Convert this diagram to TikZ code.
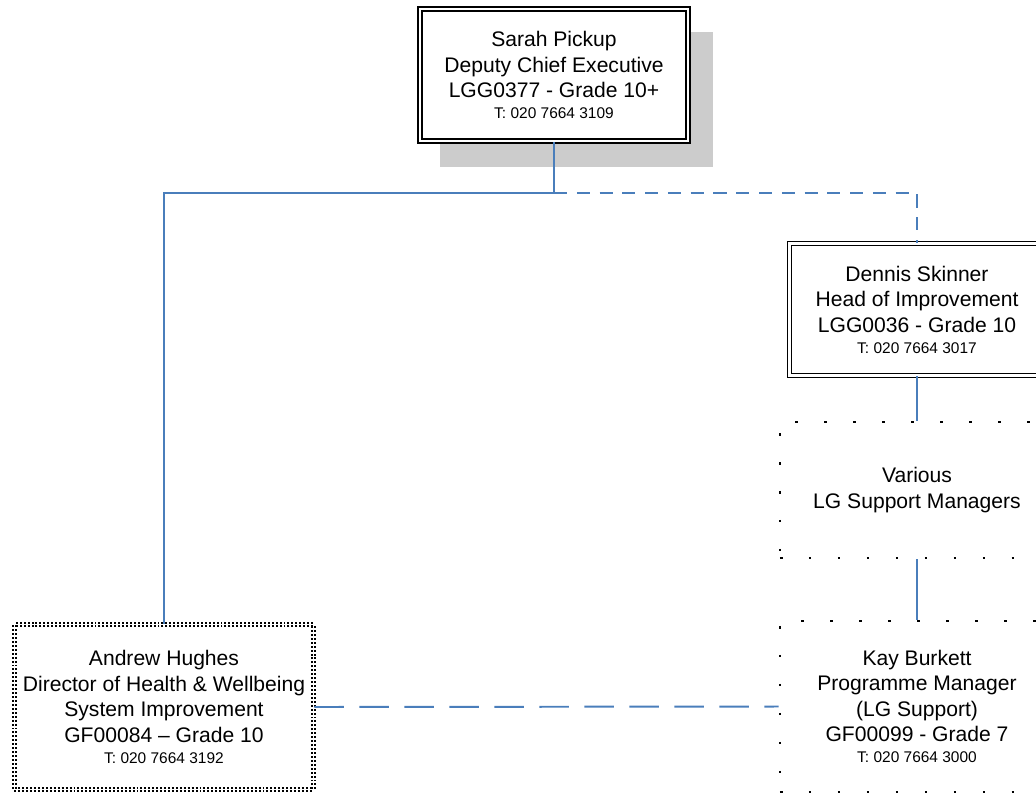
\documentclass[tikz,border=0pt]{standalone}
\usepackage{fontspec}
\setmainfont{Liberation Sans}
\usetikzlibrary{shadows}

\definecolor{orgblue}{RGB}{74,126,187}
\definecolor{shadowgray}{RGB}{204,204,204}
\newcommand{\phoneline}[1]{{\fontsize{11}{13}\selectfont T: #1}}

\begin{document}
\begin{tikzpicture}[x = 0.025cm, y = -0.025cm,
    post/.style = {draw, fill = white, align = center, inner sep = 0pt, font = \fontsize{15}{18.2}\selectfont},
    doublepost/.style = {post, double, line width = 1.1pt, double distance = 1.5pt},
    dottedpost/.style = {post, line width = 1.8pt, dash pattern = on 1.8pt off 18.8pt},
    vacantpost/.style = {post, double, line width = 1.2pt, double distance = 1.3pt, dash pattern = on 1.4pt off 1.4pt},
    link/.style = {orgblue, line width = 1.4pt},
    shortdash/.style = {link, dash pattern = on 9.3pt off 6.9pt},
    longdash/.style = {link, dash pattern = on 21pt off 11pt}]

    \useasboundingbox (0, 0) rectangle (1036, 794);
    \clip (0, 0) rectangle (1036, 794);

    \node[doublepost, minimum width = 6.7cm, minimum height = 3.3cm,
        drop shadow = {shadow xshift = 0.55cm, shadow yshift = -0.6cm, shadow scale = 1.02, fill = shadowgray, opacity = 1}]
        (sarah) at (554, 75){Sarah Pickup\\Deputy Chief Executive\\LGG0377 - Grade 10+\\[-3.3pt]\phoneline{020 7664 3109}};

    \node[doublepost, minimum width = 6.375cm, minimum height = 3.3cm] (dennis) at (917, 309.5){Dennis Skinner\\Head of Improvement\\LGG0036 - Grade 10\\[-3.3pt]\phoneline{020 7664 3017}};

    \node[dottedpost, minimum width = 6.85cm, minimum height = 3.4cm] (various) at (917, 490){Various\\LG Support Managers};

    \node[dottedpost, minimum width = 6.85cm, minimum height = 4.275cm] (kay) at (917, 706.5){Kay Burkett\\Programme Manager\\(LG Support)\\GF00099 - Grade 7\\[-3.3pt]\phoneline{020 7664 3000}};

    \node[vacantpost, minimum width = 7.475cm, minimum height = 4.125cm] (andrew) at (164, 707){Andrew Hughes\\Director of Health \& Wellbeing\\System Improvement\\GF00084 – Grade 10\\[-3.3pt]\phoneline{020 7664 3192}};

    % reporting lines
    \coordinate (split) at (554, 193);
    \draw[link] (sarah.south) -- (split) -| (andrew.north);
    \draw[shortdash] (split) -| (dennis.north);
    \draw[link] (dennis.south) -- (various.north);
    \draw[link] (various.south) -- (kay.north);
    \draw[longdash] (andrew.east) -- (kay.west);
\end{tikzpicture}
\end{document}
